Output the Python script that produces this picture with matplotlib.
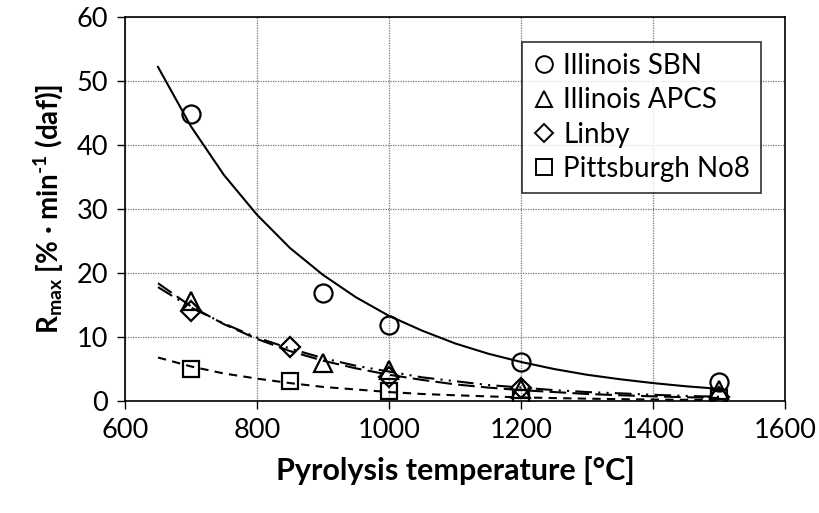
import matplotlib
matplotlib.use("Agg")
import matplotlib.pyplot as plt
from matplotlib.lines import Line2D

plt.rcParams['font.family'] = ['Lato', 'DejaVu Sans']
plt.rcParams['mathtext.fontset'] = 'custom'
plt.rcParams['mathtext.rm'] = 'Lato:bold'
plt.rcParams['mathtext.bf'] = 'Lato:black'
plt.rcParams['mathtext.it'] = 'Lato:bold'
plt.rcParams['mathtext.default'] = 'bf'

# measured data
temps_sbn = [700, 900, 1000, 1200, 1500]
sbn = [44.8, 16.9, 11.9, 6.1, 3.0]
temps_apcs = [700, 900, 1000, 1200, 1500]
apcs = [15.6, 5.9, 4.8, 1.8, 1.7]
temps_linby = [700, 850, 1000, 1200, 1500]
linby = [14.0, 8.5, 3.8, 2.0, 0.7]
temps_pitt = [700, 850, 1000, 1200, 1500]
pitt = [5.0, 3.2, 1.5, 0.5, 0.4]

# trend curves
curve_t = [650, 700, 750, 800, 850, 900, 950, 1000, 1050, 1100, 1150,
           1200, 1250, 1300, 1350, 1400, 1450, 1500]
curve_sbn = [52.2, 42.9, 35.3, 29.1, 23.9, 19.7, 16.2, 13.3, 11.0, 9.0, 7.4,
             6.1, 5.0, 4.1, 3.4, 2.8, 2.3, 1.9]
curve_apcs = [18.4, 14.8, 12.0, 9.7, 7.8, 6.3, 5.1, 4.1, 3.3, 2.6, 2.1,
              1.7, 1.4, 1.1, 0.90, 0.73, 0.59, 0.47]
curve_linby = [17.8, 14.6, 12.1, 9.9, 8.2, 6.7, 5.5, 4.6, 3.7, 3.1, 2.5,
               2.1, 1.7, 1.4, 1.2, 0.97, 0.80, 0.66]
curve_pitt = [6.8, 5.4, 4.3, 3.5, 2.8, 2.2, 1.8, 1.4, 1.1, 0.90, 0.72,
              0.57, 0.46, 0.37, 0.29, 0.23, 0.19, 0.15]

labels = ['Illinois SBN', 'Illinois APCS', 'Linby', 'Pittsburgh No8']

fig = plt.figure(figsize=(8.19, 5.13), dpi=100)
ax = fig.add_axes([0.1526, 0.2183, 0.806, 0.7486])

lw = 1.5
ax.plot(curve_t, curve_sbn, color='black', lw=lw, ls='-', zorder=3)
ax.plot(curve_t, curve_apcs, color='black', lw=lw, ls=(0, (8, 3)), zorder=3)
ax.plot(curve_t, curve_linby, color='black', lw=lw, ls=(0, (8, 3, 1, 3, 1, 3)), zorder=3)
ax.plot(curve_t, curve_pitt, color='black', lw=lw, ls=(0, (4, 3)), zorder=3)

mk = dict(mfc='none', mec='black', mew=1.6, ls='none', zorder=4)
ax.plot(temps_sbn, sbn, marker='o', ms=13, **mk)
ax.plot(temps_apcs, apcs, marker='^', ms=13, **mk)
ax.plot(temps_linby, linby, marker='D', ms=10, **mk)
ax.plot(temps_pitt, pitt, marker='s', ms=12, **mk)

ax.set_xlim(600, 1600)
ax.set_ylim(0, 60)
ax.set_xticks([600, 800, 1000, 1200, 1400, 1600])
ax.set_yticks([0, 10, 20, 30, 40, 50, 60])
ax.grid(True, color='#777777', ls=(0, (1, 1)), lw=0.9)
ax.set_axisbelow(True)
ax.tick_params(axis='both', labelsize=19.5, direction='out', length=6, width=1, pad=6)
for s in ax.spines.values():
    s.set_color('black')
    s.set_linewidth(1.2)

ax.set_xlabel('Pyrolysis temperature [°C]', fontsize=22, fontweight='bold', labelpad=10)
ax.set_ylabel('$\\mathrm{R}_{\\mathrm{max}}$ [% · min$^{\\mathrm{\u2010}\\mathrm{1}}$ (daf)]',
              fontsize=20, fontweight='bold', labelpad=8)

handles = [
    Line2D([], [], marker='o', ms=12, mfc='none', mec='black', mew=1.4, ls='none'),
    Line2D([], [], marker='^', ms=12, mfc='none', mec='black', mew=1.4, ls='none'),
    Line2D([], [], marker='D', ms=9, mfc='none', mec='black', mew=1.4, ls='none'),
    Line2D([], [], marker='s', ms=11, mfc='none', mec='black', mew=1.4, ls='none'),
]
leg = ax.legend(handles, labels, loc='upper right', bbox_to_anchor=(0.964, 0.935),
                borderaxespad=0, fontsize=20, frameon=True, fancybox=False,
                edgecolor='black', handlelength=0.8, handletextpad=0.3,
                labelspacing=0.3, borderpad=0.4)
leg.get_frame().set_linewidth(1.2)

fig.savefig('out.png', dpi=100)
